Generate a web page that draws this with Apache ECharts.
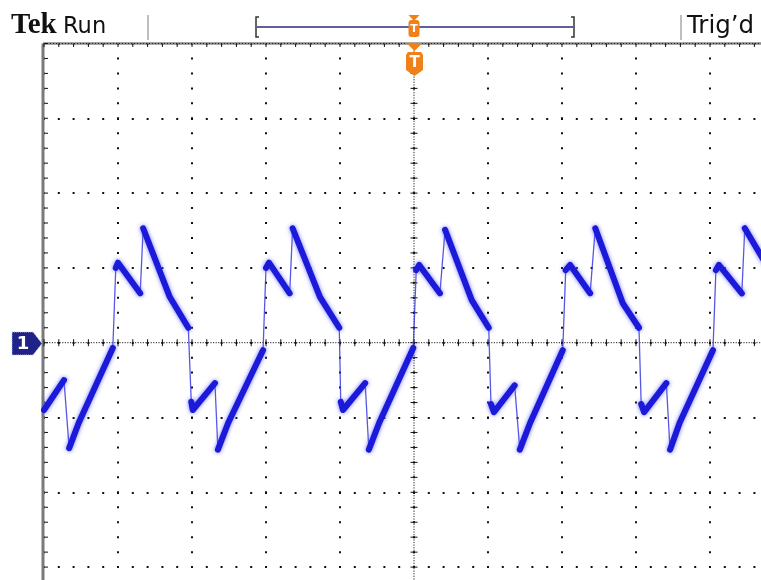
<!DOCTYPE html>
<html>
<head>
<meta charset="utf-8">
<script src="https://cdn.jsdelivr.net/npm/echarts@6/dist/echarts.min.js"></script>
<style>
html,body{margin:0;padding:0;background:#fff;}
#chart{width:761px;height:580px;}
</style>
</head>
<body>
<div id="chart"></div>
<script>
// Time in divisions relative to the trigger point (centre graticule line)
const timeDiv = [-5.00,-4.73,-4.66,-4.53,-4.07,-4.03,-4.00,-3.70,-3.66,-3.30,-3.05,-3.01,-2.99,-2.69,-2.65,-2.51,-2.04,
  -2.00,-1.96,-1.68,-1.64,-1.27,-1.01,-0.99,-0.96,-0.66,-0.61,-0.47,-0.01,
  0.03,0.07,0.35,0.42,0.78,1.01,1.04,1.08,1.36,1.43,1.57,2.01,
  2.05,2.11,2.38,2.45,2.82,3.04,3.07,3.11,3.41,3.46,3.59,4.04,
  4.08,4.12,4.43,4.47,4.74];
// Channel 1 amplitude in divisions
const ch1Div = [-0.90,-0.50,-1.41,-1.07,-0.07,1.00,1.07,0.66,1.53,0.61,0.20,-0.79,-0.90,-0.54,-1.43,-1.07,-0.10,
  1.00,1.07,0.66,1.53,0.61,0.20,-0.79,-0.90,-0.54,-1.43,-1.07,-0.07,
  0.97,1.04,0.66,1.51,0.57,0.20,-0.82,-0.93,-0.57,-1.43,-1.07,-0.10,
  0.97,1.04,0.66,1.53,0.53,0.20,-0.82,-0.93,-0.54,-1.43,-1.07,-0.10,
  0.97,1.04,0.66,1.53,1.08];
// 1 = fast (dim) transition from the previous point
const fastEdge = [0,0,1,0,0,1,0,0,1,0,0,1,0,0,1,0,0,
  1,0,0,1,0,0,1,0,0,1,0,0,
  1,0,0,1,0,0,1,0,0,1,0,0,
  1,0,0,1,0,0,1,0,0,1,0,0,
  1,0,0,1,0];
const xTicks = {min:-5, max:5, interval:1};
const yTicks = {min:-4, max:4, interval:1};
const headerLeft = ['Tek', 'Run'];
const headerRight = 'Trig\u2019d';
const channelLabel = '1';
const triggerLabel = 'T';

const thick = [], thin = [];
for (let i = 0; i < timeDiv.length; i++) {
  const p = [timeDiv[i], ch1Div[i]];
  if (i > 0 && fastEdge[i]) {
    thin.push([timeDiv[i-1], ch1Div[i-1]], p, null);
    thick.push(null);
  }
  thick.push(p);
}

const chart = echarts.init(document.getElementById('chart'), null, {renderer:'canvas'});
const ORANGE = '#f08019';
const NAVY = '#1f2387';

function graticule(params, api) {
  const ch = [];
  const ln = (a, b, style) => ch.push({type:'line', shape:{x1:a[0],y1:a[1],x2:b[0],y2:b[1]}, style:style});
  const blk = {stroke:'#111', lineWidth:1};
  const tl = api.coord([-5, 4]), tr = api.coord([5, 4]), bl = api.coord([-5, -4]);
  ln([tl[0]-1, tl[1]], [tr[0], tr[1]], {stroke:'#8a8a8a', lineWidth:2.5});
  ln([tl[0]-1, tl[1]], [bl[0]-1, bl[1]], {stroke:'#7a7a7a', lineWidth:3});
  ln([tl[0], tl[1]], [tr[0], tr[1]], {stroke:'#222', lineWidth:1, lineDash:[1,2]});
  ln(api.coord([-5,0]), api.coord([5,0]), {stroke:'#222', lineWidth:1, lineDash:[1.2,1.4]});
  ln(api.coord([0,-4]), api.coord([0,4]), {stroke:'#222', lineWidth:1, lineDash:[1.2,1.4]});
  for (let k = -25; k <= 25; k++) {
    const p = api.coord([k/5, 0]);
    ln([p[0], p[1]-3.5], [p[0], p[1]+3.5], blk);
    const q = api.coord([k/5, 4]);
    ln([q[0], q[1]], [q[0], q[1]+3.5], blk);
  }
  for (let k = -20; k <= 20; k++) {
    const p = api.coord([0, k/5]);
    ln([p[0]-3.5, p[1]], [p[0]+3.5, p[1]], blk);
    const q = api.coord([-5, k/5]);
    ln([q[0]+1, q[1]], [q[0]+4, q[1]], blk);
  }
  return {type:'group', children:ch};
}

const option = {
  animation: false,
  backgroundColor: '#ffffff',
  grid: {left:44, top:43.5, width:740, height:598.4, show:false, containLabel:false, outerBoundsMode:'none'},
  xAxis: {
    type:'value', min:xTicks.min, max:xTicks.max, interval:xTicks.interval,
    axisLine:{show:false}, axisTick:{show:false}, axisLabel:{show:false},
    splitLine:{show:true, lineStyle:{color:'#111', width:2, type:[2, 12.96], dashOffset:1}}
  },
  yAxis: {
    type:'value', min:yTicks.min, max:yTicks.max, interval:yTicks.interval,
    axisLine:{show:false}, axisTick:{show:false}, axisLabel:{show:false},
    splitLine:{show:true, lineStyle:{color:'#111', width:2, type:[2, 12.8], dashOffset:1}}
  },
  series: [
    {type:'custom', z:1, clip:false, silent:true, renderItem:graticule, data:[[0,0]]},
    {type:'line', z:5, data:thin, showSymbol:false, symbol:'none', connectNulls:false,
      lineStyle:{color:'rgba(45,45,225,0.8)', width:1.3}},
    {type:'line', z:6, data:thick, showSymbol:false, symbol:'none', connectNulls:false,
      lineStyle:{color:'#1a1ad8', width:6, cap:'round', join:'round',
        shadowColor:'rgba(90,90,255,0.85)', shadowBlur:4}}
  ],
  graphic: [
    {type:'text', left:11, top:11, style:{text:headerLeft[0], font:'bold 29px "Liberation Serif"', fill:'#111'}},
    {type:'text', left:63, top:16, style:{text:headerLeft[1], font:'22.5px "DejaVu Sans"', fill:'#111'}},
    {type:'line', shape:{x1:148,y1:15,x2:148,y2:40}, style:{stroke:'#a8a8a8', lineWidth:1.5}},
    {type:'line', shape:{x1:681,y1:15,x2:681,y2:40}, style:{stroke:'#a8a8a8', lineWidth:1.5}},
    {type:'text', left:687, top:14, style:{text:headerRight, font:'24.5px "DejaVu Sans"', fill:'#111'}},
    {type:'polyline', shape:{points:[[259,17],[256,17],[256,37],[259,37]]}, style:{stroke:'#333', lineWidth:1.5, fill:null}},
    {type:'polyline', shape:{points:[[571,17],[574,17],[574,37],[571,37]]}, style:{stroke:'#333', lineWidth:1.5, fill:null}},
    {type:'line', shape:{x1:257,y1:27,x2:573,y2:27}, style:{stroke:'#2a2a7e', lineWidth:1.5}},
    {type:'polygon', z:10, shape:{points:[[408.5,15],[419.5,15],[414,21]]}, style:{fill:ORANGE}},
    {type:'rect', z:10, shape:{x:408.5,y:20,width:11,height:17,r:3}, style:{fill:ORANGE}},
    {type:'text', z:11, x:414, y:29, style:{text:triggerLabel, font:'bold 11px "DejaVu Sans"', fill:'#fff', align:'center', verticalAlign:'middle'}},
    {type:'polygon', z:10, shape:{points:[[406.5,43],[422.5,43],[414.5,51]]}, style:{fill:ORANGE}},
    {type:'polygon', z:10, shape:{points:[[406,55],[408,52],[421,52],[423,55],[423,70],[414.5,76],[406,70]]}, style:{fill:ORANGE}},
    {type:'text', z:11, x:414.5, y:63, style:{text:triggerLabel, font:'bold 15px "DejaVu Sans"', fill:'#fff', align:'center', verticalAlign:'middle'}},
    {type:'polygon', z:10, shape:{points:[[12,332],[33,332],[42,343.5],[33,355],[12,355]]}, style:{fill:NAVY, stroke:'#c9cbe8', lineWidth:1, lineDash:[1,1]}},
    {type:'text', z:11, x:23, y:344, style:{text:channelLabel, font:'bold 18px "DejaVu Sans"', fill:'#fff', align:'center', verticalAlign:'middle'}}
  ]
};
chart.setOption(option);
</script>
</body>
</html>
